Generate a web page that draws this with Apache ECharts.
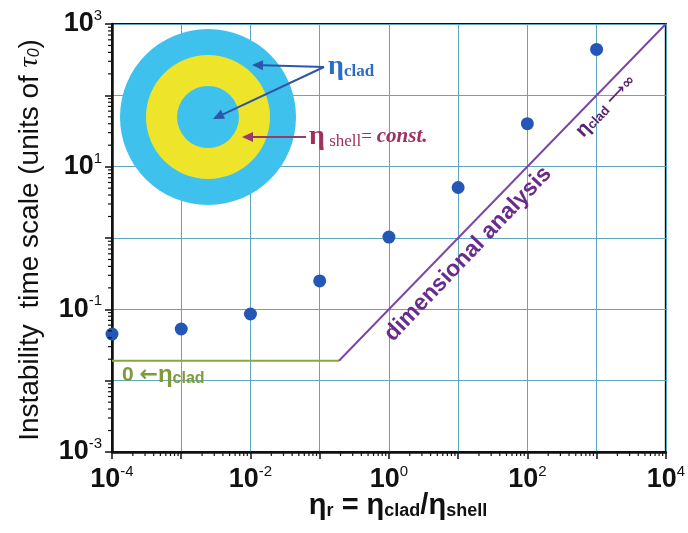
<!DOCTYPE html>
<html>
<head>
<meta charset="utf-8">
<script src="https://cdn.jsdelivr.net/npm/echarts@6/dist/echarts.min.js"></script>
<style>
html,body{margin:0;padding:0;background:#fff;}
#c{width:688px;height:533px;}
</style>
</head>
<body>
<div id="c"></div>
<script>
// ---- data ----
const etaRatio = [1e-4, 1e-3, 1e-2, 1e-1, 1, 10, 100, 1000];
const tauValues = [0.045, 0.053, 0.086, 0.25, 1.03, 5.1, 40, 440];
const lowLimitX = [1e-4, 0.19];
const lowLimitY = [0.019, 0.019];
const dimX = [0.19, 1e4];
const dimY = [0.019, 1000];
const xRange = [1e-4, 1e4];
const yRange = [1e-3, 1e3];
const xLabelExps = [-4, -2, 0, 2, 4];
const yLabelExps = [-3, -1, 1, 3];

const FONT = 'Liberation Sans, Arial, sans-serif';
const SERIF = 'Liberation Serif, Times New Roman, serif';
const SYM = 'DejaVu Sans, sans-serif';

// minor tick positions (2..9 within each decade)
function minorTicks(lo, hi) {
  const out = [];
  for (let e = Math.round(Math.log10(lo)); e < Math.round(Math.log10(hi)); e++) {
    for (let k = 2; k <= 9; k++) out.push(k * Math.pow(10, e));
  }
  return out;
}
const xMinor = minorTicks(xRange[0], xRange[1]);
const yMinor = minorTicks(yRange[0], yRange[1]);

function expLabel(v, allowed) {
  const e = Math.round(Math.log10(v));
  if (allowed.indexOf(e) < 0) return '';
  return '{b|10}{s|' + (e < 0 ? '-' + Math.abs(e) : e) + '}';
}

const richTick = {
  b: {fontFamily: FONT, fontWeight: 'bold', fontSize: 27, color: '#111'},
  s: {fontFamily: FONT, fontWeight: 'normal', fontSize: 15, color: '#111', padding: [0, 0, 16, 0]}
};

function arrow(x1, y1, x2, y2, color) {
  const ang = Math.atan2(y2 - y1, x2 - x1);
  const L = 11, W = 5;
  const bx = x2 - L * Math.cos(ang), by = y2 - L * Math.sin(ang);
  const px = -Math.sin(ang) * W, py = Math.cos(ang) * W;
  return [
    {type: 'line', shape: {x1: x1, y1: y1, x2: bx, y2: by}, style: {stroke: color, lineWidth: 2}, z: 100},
    {type: 'polygon', shape: {points: [[x2, y2], [bx + px, by + py], [bx - px, by - py]]}, style: {fill: color}, z: 100}
  ];
}

const chart = echarts.init(document.getElementById('c'), null, {renderer: 'canvas'});

const gridColor = '#5fa6bf';

const graphics = [
  // inset: concentric circles
  {type: 'circle', shape: {cx: 208, cy: 117, r: 88}, style: {fill: '#3fc1ee'}, z: 90},
  {type: 'circle', shape: {cx: 208, cy: 117, r: 62}, style: {fill: '#eee52a'}, z: 91},
  {type: 'circle', shape: {cx: 208, cy: 117, r: 31}, style: {fill: '#3fc1ee'}, z: 92},
  ...arrow(324, 67, 252, 65, '#2e55a8'),
  ...arrow(324, 67, 213, 119, '#2e55a8'),
  ...arrow(306, 137, 242, 137, '#983a6a'),
  {type: 'text', x: 328, y: 67, z: 100, style: {
    text: '{e|η}{c|clad}', verticalAlign: 'middle',
    rich: {
      e: {fontFamily: SERIF, fontSize: 28, fontWeight: 'bold', fill: '#2a6cc8'},
      c: {fontFamily: SERIF, fontSize: 17, fontWeight: 'bold', fill: '#2a6cc8', padding: [9, 0, 0, 0]}
    }
  }},
  {type: 'text', x: 309, y: 137, z: 100, style: {
    text: '{e|η}{c| shell}{q|= }{k|const.}', verticalAlign: 'middle',
    rich: {
      e: {fontFamily: SERIF, fontSize: 28, fontWeight: 'bold', fill: '#a0305e'},
      c: {fontFamily: SERIF, fontSize: 17, fill: '#a0305e', padding: [9, 0, 0, 0]},
      q: {fontFamily: SERIF, fontSize: 19, fill: '#a0305e'},
      k: {fontFamily: SERIF, fontSize: 21, fontStyle: 'italic', fontWeight: 'bold', fill: '#a0305e'}
    }
  }},
  // dimensional analysis
  {type: 'text', x: 468, y: 254, rotation: 46.5 * Math.PI / 180, z: 100, style: {
    text: 'dimensional analysis', align: 'center', verticalAlign: 'middle',
    fontFamily: FONT, fontWeight: 'bold', fontSize: 23, fill: '#6a2c8c'
  }},
  {type: 'text', x: 606, y: 106, rotation: 46.5 * Math.PI / 180, z: 100, style: {
    text: '{e|η}{c|clad}{a| ⟶∞}', align: 'center', verticalAlign: 'middle',
    rich: {
      e: {fontFamily: FONT, fontSize: 20, fontWeight: 'bold', fill: '#5a2270'},
      c: {fontFamily: FONT, fontSize: 13, fontWeight: 'bold', fill: '#5a2270', padding: [6, 0, 0, 0]},
      a: {fontFamily: SYM, fontSize: 15, fontWeight: 'bold', fill: '#5a2270'}
    }
  }},
  // 0 <- eta_clad
  {type: 'text', x: 122, y: 375, z: 100, style: {
    text: '{a|0 }{r|←}{e|η}{c|clad}', verticalAlign: 'middle',
    rich: {
      a: {fontFamily: FONT, fontSize: 21, fontWeight: 'bold', fill: '#809a38'},
      r: {fontFamily: SYM, fontSize: 22, fontWeight: 'bold', fill: '#809a38'},
      e: {fontFamily: FONT, fontSize: 24, fontWeight: 'bold', fill: '#809a38'},
      c: {fontFamily: FONT, fontSize: 16, fontWeight: 'bold', fill: '#809a38', padding: [8, 0, 0, 0]}
    }
  }},
  // y axis title
  {type: 'text', x: 30, y: 240, rotation: Math.PI / 2, z: 100, style: {
    text: '{t|Instability  time scale (units of }{tau|τ}{z|0}{t|)}', align: 'center', verticalAlign: 'middle',
    rich: {
      t: {fontFamily: FONT, fontSize: 28, fill: '#111'},
      tau: {fontFamily: SERIF, fontSize: 28, fontStyle: 'italic', fill: '#111'},
      z: {fontFamily: FONT, fontSize: 16, fontStyle: 'italic', fill: '#111', padding: [10, 0, 0, 0]}
    }
  }},
  // x axis title
  {type: 'text', x: 398, y: 506, z: 100, style: {
    text: '{e|η}{s|r}{e| = η}{s|clad}{e|/η}{s|shell}', align: 'center', verticalAlign: 'middle',
    rich: {
      e: {fontFamily: FONT, fontSize: 29, fontWeight: 'bold', fill: '#111'},
      s: {fontFamily: FONT, fontSize: 18, fontWeight: 'bold', fill: '#111', padding: [11, 0, 0, 0]}
    }
  }}
];

const option = {
  animation: false,
  backgroundColor: '#fff',
  grid: {left: 112, right: 21, top: 24, bottom: 81, show: true, borderColor: '#111', borderWidth: 2, backgroundColor: 'transparent'},
  xAxis: {
    type: 'log', logBase: 10, min: xRange[0], max: xRange[1],
    axisLine: {show: true, onZero: false, lineStyle: {color: '#111', width: 2.5}},
    axisTick: {show: true, length: 7, lineStyle: {color: '#111', width: 1.5}},
    splitLine: {show: true, lineStyle: {color: gridColor, width: 1}},
    axisLabel: {margin: 12, formatter: v => expLabel(v, xLabelExps), rich: richTick}
  },
  yAxis: {
    type: 'log', logBase: 10, min: yRange[0], max: yRange[1],
    axisLine: {show: true, onZero: false, lineStyle: {color: '#111', width: 2.5}},
    axisTick: {show: true, length: 7, lineStyle: {color: '#111', width: 1.5}},
    splitLine: {show: true, lineStyle: {color: gridColor, width: 1}},
    axisLabel: {margin: 10, formatter: v => expLabel(v, yLabelExps), rich: richTick}
  },
  series: [
    {
      type: 'line', data: lowLimitX.map((x, i) => [x, lowLimitY[i]]),
      symbol: 'none', lineStyle: {color: '#8aa83a', width: 2}, z: 5
    },
    {
      type: 'line', data: dimX.map((x, i) => [x, dimY[i]]),
      symbol: 'none', lineStyle: {color: '#7a48aa', width: 2}, z: 5
    },
    {
      type: 'scatter', data: etaRatio.map((x, i) => [x, tauValues[i]]),
      symbol: 'circle', symbolSize: 13, itemStyle: {color: '#2456b6', opacity: 1}, z: 10
    },
    {
      type: 'custom', clip: false, silent: true, z: 20,
      data: xMinor.map(v => [v, yRange[0]]),
      renderItem: function (params, api) {
        const p = api.coord([api.value(0), api.value(1)]);
        return {type: 'line', shape: {x1: p[0], y1: p[1], x2: p[0], y2: p[1] + 4}, style: {stroke: '#111', lineWidth: 1.2}};
      }
    },
    {
      type: 'custom', clip: false, silent: true, z: 20,
      data: yMinor.map(v => [xRange[0], v]),
      renderItem: function (params, api) {
        const p = api.coord([api.value(0), api.value(1)]);
        return {type: 'line', shape: {x1: p[0], y1: p[1], x2: p[0] - 4, y2: p[1]}, style: {stroke: '#111', lineWidth: 1.2}};
      }
    }
  ],
  graphic: graphics
};

chart.setOption(option);
</script>
</body>
</html>
